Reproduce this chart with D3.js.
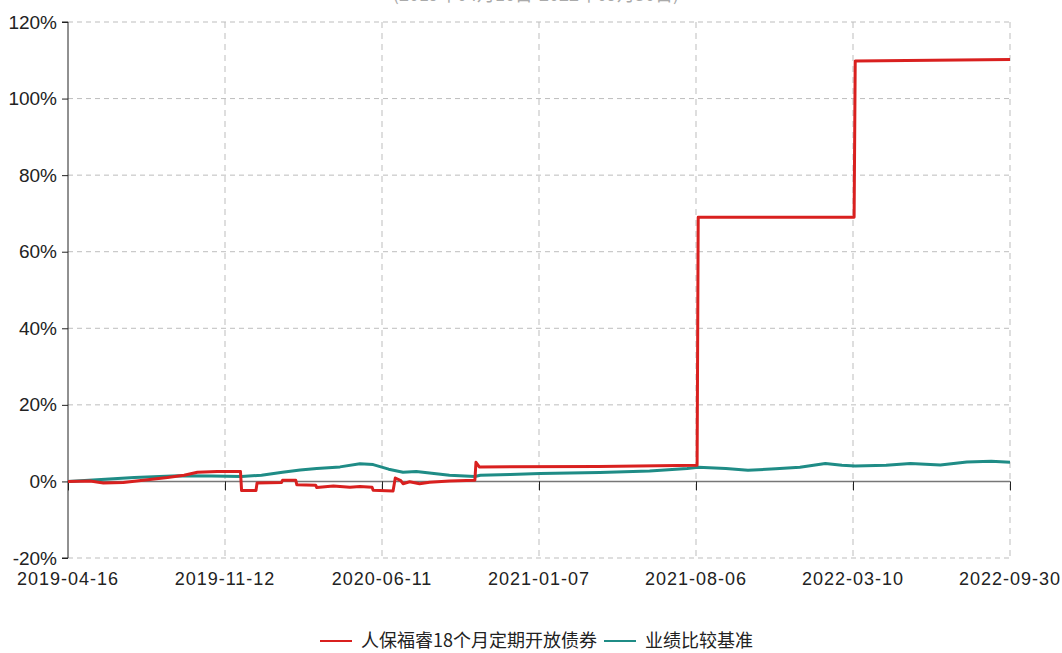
<!DOCTYPE html>
<html>

<head>
  <meta charset="UTF-8">
  <title>Document</title>
  <style>
    body { margin: 0; background: #fff; }
    svg { display: block; }
  </style>
</head>

<body>
  <script src="https://cdn.jsdelivr.net/npm/d3@7"></script>
  <script>
    // x is trading-day index from 2019-04-16
    const tickIdx = [0, 142, 284, 426, 568, 710, 852]
    const tickLabels = ['2019-04-16', '2019-11-12', '2020-06-11', '2021-01-07', '2021-08-06', '2022-03-10', '2022-09-30']
    const yTicks = [-20, 0, 20, 40, 60, 80, 100, 120]
    const seriesNames = ['人保福睿18个月定期开放债券', '业绩比较基准']

    const fundIdx = [0, 20, 32, 50, 70, 90, 105, 117, 135, 156, 157, 170, 171, 193, 194, 206, 207, 224, 225, 240, 255, 264, 275, 276, 294, 296, 301, 303, 309, 318, 327, 345, 368, 369, 372, 480, 569, 570, 711, 712, 852]
    const fundVal = [0, 0.1, -0.4, -0.3, 0.4, 1.0, 1.6, 2.4, 2.6, 2.6, -2.4, -2.4, -0.4, -0.3, 0.3, 0.3, -0.9, -1.0, -1.6, -1.2, -1.5, -1.3, -1.5, -2.3, -2.5, 0.9, 0.2, -0.6, -0.1, -0.6, -0.2, 0.1, 0.3, 5.0, 3.8, 3.9, 4.2, 69.0, 69.0, 109.8, 110.2]

    const benchIdx = [0, 30, 60, 100, 130, 157, 175, 194, 210, 225, 246, 264, 276, 290, 303, 315, 327, 345, 368, 373, 400, 427, 481, 526, 560, 570, 595, 615, 640, 662, 685, 700, 712, 740, 762, 789, 813, 835, 852]
    const benchVal = [0, 0.5, 1.0, 1.5, 1.4, 1.3, 1.6, 2.4, 3.0, 3.4, 3.8, 4.6, 4.4, 3.2, 2.4, 2.6, 2.2, 1.6, 1.3, 1.6, 1.8, 2.1, 2.3, 2.7, 3.4, 3.7, 3.4, 2.9, 3.3, 3.7, 4.7, 4.2, 4.0, 4.2, 4.7, 4.3, 5.1, 5.3, 5.0]

    const colors = ['#d9201f', '#1f8c86']

    const width = 1062,
      height = 653,
      plotLeft = 68,
      plotRight = 1010,
      plotTop = 22,
      plotBottom = 558

    const font = '"Liberation Sans", Arial, sans-serif'

    const svg = d3.select('body')
      .append('svg')
      .attr('width', width)
      .attr('height', height)

    const xScale = d3.scaleLinear()
      .domain([0, 852])
      .range([plotLeft, plotRight])

    const yScale = d3.scaleLinear()
      .domain([-20, 120])
      .range([plotBottom, plotTop])

    // title, mostly outside the picture
    svg.append('text')
      .attr('x', 536)
      .attr('y', 1)
      .attr('text-anchor', 'middle')
      .attr('fill', '#aaa')
      .style('font-family', '"Noto Sans CJK SC", sans-serif')
      .style('font-size', '18px')
      .text('(2019年04月16日-2022年09月30日)')

    // horizontal grid
    svg.append('g')
      .selectAll('line')
      .data(yTicks.filter(d => d !== 0))
      .enter().append('line')
      .attr('x1', plotLeft)
      .attr('x2', plotRight)
      .attr('y1', d => yScale(d))
      .attr('y2', d => yScale(d))
      .attr('stroke', '#bdbdbd')
      .attr('stroke-dasharray', '5,4')

    // vertical grid
    svg.append('g')
      .selectAll('line')
      .data(tickIdx.slice(1))
      .enter().append('line')
      .attr('x1', d => xScale(d))
      .attr('x2', d => xScale(d))
      .attr('y1', plotTop)
      .attr('y2', plotBottom)
      .attr('stroke', '#bdbdbd')
      .attr('stroke-dasharray', '6,5')

    // y axis
    const yAxis = d3.axisLeft(yScale)
      .tickValues(yTicks)
      .tickSize(6)
      .tickPadding(5)
      .tickFormat(d => d + '%')

    const gy = svg.append('g')
      .attr('transform', `translate(${plotLeft},0)`)
      .call(yAxis)
    gy.select('.domain').attr('stroke', '#222').attr('d', `M-6,${plotTop}H0V${plotBottom}H-6`)
    gy.selectAll('.tick line').attr('stroke', '#222')
    gy.selectAll('.tick text')
      .attr('fill', '#222')
      .style('font-family', font)
      .style('font-size', '19px')

    // x axis at zero, labels below the plot
    const xAxis = d3.axisBottom(xScale)
      .tickValues(tickIdx)
      .tickSize(9)
      .tickFormat('')

    const gx = svg.append('g')
      .attr('transform', `translate(0,${yScale(0)})`)
      .call(xAxis)
    gx.select('.domain').attr('stroke', '#777').attr('stroke-width', 1.5).attr('d', `M${plotLeft},0H${plotRight}`)
    gx.selectAll('.tick line').attr('stroke', '#222')

    svg.append('g')
      .selectAll('text')
      .data(tickIdx)
      .enter().append('text')
      .attr('x', d => xScale(d))
      .attr('y', 585)
      .attr('text-anchor', 'middle')
      .attr('fill', '#222')
      .style('font-family', font)
      .style('font-size', '18px')
      .style('letter-spacing', '1px')
      .text((d, i) => tickLabels[i])

    // lines
    const line = d3.line()
      .x(d => xScale(d[0]))
      .y(d => yScale(d[1]))

    const bench = benchIdx.map((d, i) => [d, benchVal[i]])
    const fund = fundIdx.map((d, i) => [d, fundVal[i]])

    svg.append('path')
      .datum(bench)
      .attr('fill', 'none')
      .attr('stroke', colors[1])
      .attr('stroke-width', 3)
      .attr('stroke-linejoin', 'round')
      .attr('d', line)

    svg.append('path')
      .datum(fund)
      .attr('fill', 'none')
      .attr('stroke', colors[0])
      .attr('stroke-width', 3)
      .attr('stroke-linejoin', 'round')
      .attr('d', line)

    // legend
    const legendX = [320, 604]
    const lg = svg.append('g')
      .selectAll('g')
      .data(seriesNames)
      .enter().append('g')
      .attr('transform', (d, i) => `translate(${legendX[i]},641)`)

    lg.append('line')
      .attr('x1', 0)
      .attr('x2', 32)
      .attr('stroke', (d, i) => colors[i])
      .attr('stroke-width', 2)

    lg.append('text')
      .attr('x', 41)
      .attr('dy', '0.36em')
      .attr('fill', '#222')
      .style('font-family', '"Noto Sans CJK SC", sans-serif')
      .style('font-size', '18px')
      .text(d => d)
  </script>
</body>

</html>
